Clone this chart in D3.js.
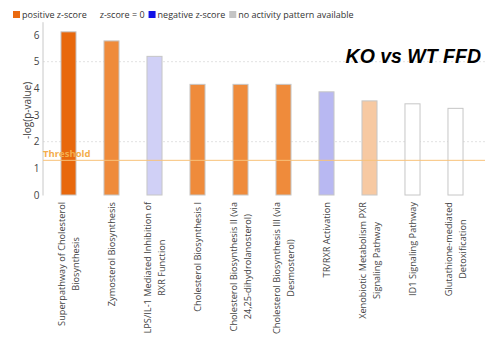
<!DOCTYPE html>
<html>
<head>
<meta charset="utf-8">
<script src="https://cdn.jsdelivr.net/npm/d3@7/dist/d3.min.js"></script>
<style>
  html, body { margin: 0; padding: 0; background: #fff; }
  svg { display: block; font-family: "Open Sans", "Noto Sans", sans-serif; }
</style>
</head>
<body>
<svg id="chart" width="485" height="343"></svg>
<script>
// Canonical pathways, -log(p-value) and z-score class
const pathways = [
  ["Superpathway of Cholesterol", "Biosynthesis"],
  ["Zymosterol Biosynthesis"],
  ["LPS/IL-1 Mediated Inhibition of", "RXR Function"],
  ["Cholesterol Biosynthesis I"],
  ["Cholesterol Biosynthesis II (via", "24,25-dihydrolanosterol)"],
  ["Cholesterol Biosynthesis III (via", "Desmosterol)"],
  ["TR/RXR Activation"],
  ["Xenobiotic Metabolism PXR", "Signaling Pathway"],
  ["ID1 Signaling Pathway"],
  ["Glutathione-mediated", "Detoxification"]
];
const logP = [6.12, 5.78, 5.2, 4.15, 4.15, 4.15, 3.87, 3.53, 3.42, 3.25];
const barFill = ["#e8680c", "#ef8b3b", "#d0d0f6", "#ef8b3b", "#ef8b3b", "#ef8b3b",
                 "#b8b8f2", "#f7c9a2", "#ffffff", "#ffffff"];
const threshold = 1.3;
const yTicks = [0, 1, 2, 3, 4, 5, 6];
const gridValues = [2, 5];
const legendItems = [
  { label: "positive z-score", color: "#ea6a10" },
  { label: "z-score = 0", color: "#ffffff" },
  { label: "negative z-score", color: "#1212e6" },
  { label: "no activity pattern available", color: "#c4c4c4" }
];
const title = "KO vs WT FFD";

const svg = d3.select("#chart");

const x = d3.scaleBand()
  .domain(d3.range(pathways.length))
  .range([47, 477])
  .paddingInner(0.65)
  .paddingOuter(0.325);

const y = d3.scaleLinear().domain([0, 6.5]).range([195, 21.7]);

// dotted grid lines
svg.append("g").selectAll("line").data(gridValues).join("line")
  .attr("x1", 43).attr("x2", 485)
  .attr("y1", d => y(d)).attr("y2", d => y(d))
  .attr("stroke", "#e2e2e2").attr("stroke-width", 1)
  .attr("stroke-dasharray", "2,2");

// y axis
const yAxis = svg.append("g")
  .attr("transform", "translate(42.5,0)")
  .call(d3.axisLeft(y).tickValues(yTicks).tickSize(0).tickPadding(3).tickFormat(d3.format("d")));
yAxis.select(".domain").attr("stroke", "#c8c8c8");
yAxis.selectAll("text")
  .attr("fill", "#444")
  .style("font-size", "10px")
  .style("font-family", "'Open Sans', sans-serif");

svg.append("text")
  .attr("transform", `translate(31,${(y(0) + y(6.5)) / 2 + 2}) rotate(-90)`)
  .attr("text-anchor", "middle")
  .style("font-size", "10px")
  .attr("fill", "#444")
  .text("-log(p-value)");

// bars
svg.append("g").selectAll("rect").data(logP).join("rect")
  .attr("x", (d, i) => x(i))
  .attr("y", d => y(d))
  .attr("width", x.bandwidth())
  .attr("height", d => y(0) - y(d))
  .attr("fill", (d, i) => barFill[i])
  .attr("stroke", "#c6c6c6")
  .attr("stroke-width", 1);

// threshold
svg.append("line")
  .attr("x1", 43).attr("x2", 485)
  .attr("y1", y(threshold)).attr("y2", y(threshold))
  .attr("stroke", "#f8c27a").attr("stroke-width", 1);
svg.append("text")
  .attr("x", 43).attr("y", y(threshold) - 3)
  .style("font-size", "9.5px").style("font-weight", "bold")
  .attr("fill", "#f4ad4c")
  .text("Threshold");

// category labels, rotated and centred as a block
const lineH = 13.5;
const labels = svg.append("g").selectAll("g").data(pathways).join("g")
  .attr("transform", (d, i) => `translate(${x(i) + x.bandwidth() / 2},202) rotate(-90)`);
labels.each(function (lines) {
  const g = d3.select(this);
  const texts = g.selectAll("text").data(lines).join("text")
    .style("font-size", "9.2px")
    .attr("fill", "#444")
    .attr("text-anchor", "middle")
    .text(d => d);
  const maxW = d3.max(texts.nodes(), n => n.getComputedTextLength());
  const n = lines.length;
  texts.attr("x", -maxW / 2)
    .attr("y", (d, j) => (j - (n - 1) / 2) * lineH + 3.3);
});

// legend
const legend = svg.append("g");
let lx = 13;
legendItems.forEach(item => {
  legend.append("rect")
    .attr("x", lx).attr("y", 11).attr("width", 7).attr("height", 7)
    .attr("fill", item.color);
  const t = legend.append("text")
    .attr("x", lx + 9).attr("y", 18)
    .style("font-size", "9px")
    .attr("fill", "#333")
    .text(item.label);
  lx += 9 + t.node().getComputedTextLength() + 4;
});

// title
svg.append("text")
  .attr("x", 481).attr("y", 63)
  .attr("text-anchor", "end")
  .style("font-family", "'Liberation Sans', Arial, sans-serif")
  .style("font-size", "19.5px")
  .style("font-weight", "bold")
  .style("font-style", "italic")
  .attr("fill", "#000")
  .text(title);
</script>
</body>
</html>
